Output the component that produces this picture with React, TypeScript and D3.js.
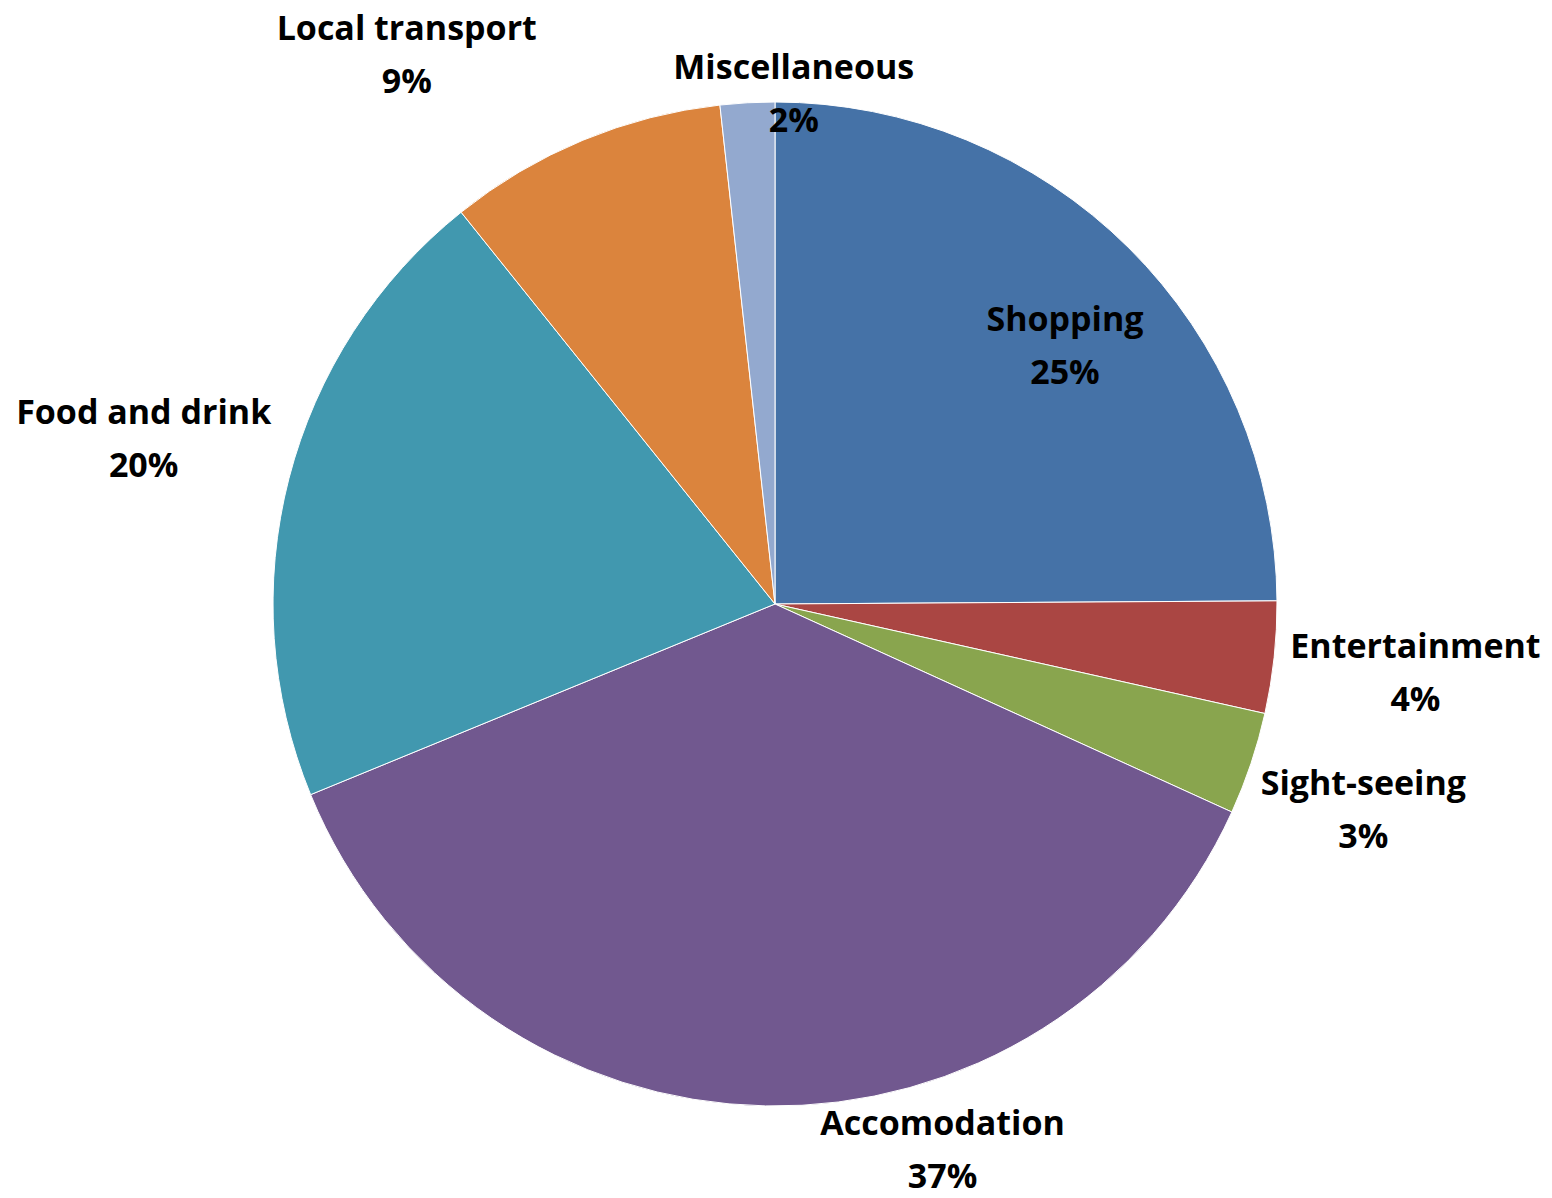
import React from "react";
import * as d3 from "d3";

const categories = ["Shopping", "Entertainment", "Sight-seeing", "Accomodation", "Food and drink", "Local transport", "Miscellaneous"];
const values = [24.9, 3.6, 3.3, 37.0, 20.45, 9.0, 1.75];
const colors = ["#4572A7", "#AA4643", "#89A54E", "#71588F", "#4198AF", "#DB843D", "#93A9CF"];
// label placement: [angle in degrees clockwise from top, distance from centre]
const labelPlacement: [number, number][] = [
  [48.2, 389], [96.0, 644], [109.2, 623], [162.9, 570], [284.8, 653], [326.2, 662], [2.1, 512],
];

const W = 1552, H = 1198;
const CX = 775, CY = 604, R = 502;

export default function App() {
  const total = d3.sum(values);
  const pie = d3.pie<number>().sort(null).value((d) => d)(values);
  const arc = d3.arc<d3.PieArcDatum<number>>().innerRadius(0).outerRadius(R);
  return (
    <svg width={W} height={H} style={{ position: "absolute", left: 0, top: 0, background: "#fff" }}>
      <g transform={`translate(${CX},${CY})`}>
        {pie.map((p, i) => (
          <path key={i} d={arc(p) || ""} fill={colors[i]} stroke="#fff" strokeWidth={1} />
        ))}
        {pie.map((p, i) => {
          const [deg, r] = labelPlacement[i];
          const a = (deg * Math.PI) / 180;
          const x = r * Math.sin(a);
          const y = -r * Math.cos(a);
          const pct = Math.round((values[i] / total) * 100) + "%";
          return (
            <text key={"t" + i} x={x} y={y} textAnchor="middle"
              style={{ fontFamily: "'Open Sans', 'Noto Sans', sans-serif", fontWeight: 700, fontSize: 34 }}
              fill="#000">
              <tspan x={x} dy={-26.5} dominantBaseline="central">{categories[i]}</tspan>
              <tspan x={x} dy={53} dominantBaseline="central">{pct}</tspan>
            </text>
          );
        })}
      </g>
    </svg>
  );
}
